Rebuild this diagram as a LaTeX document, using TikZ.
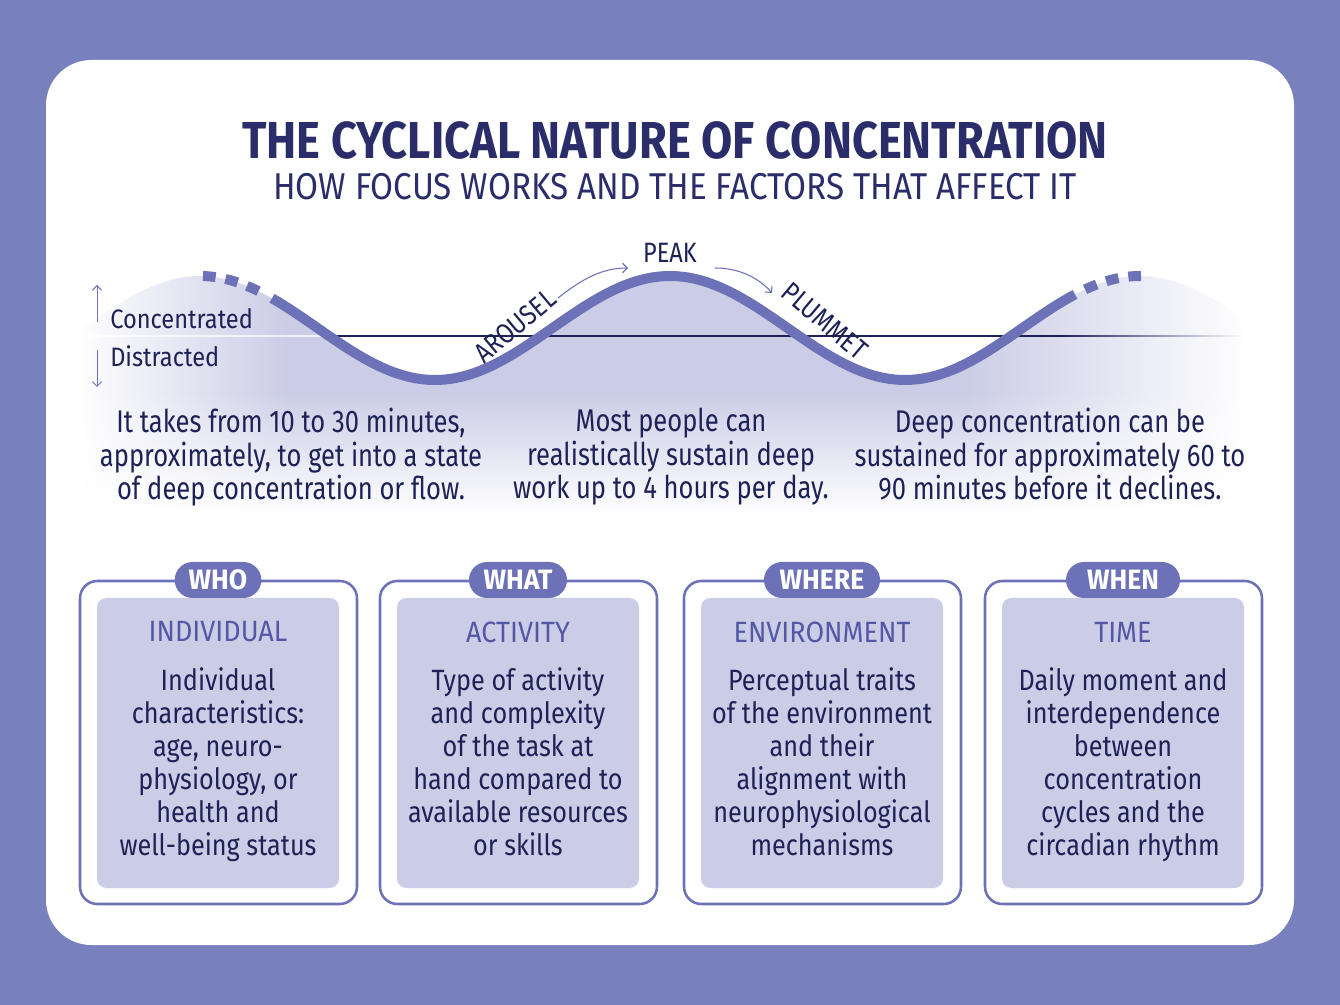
\documentclass[tikz,border=0pt]{standalone}
\usepackage{fontspec}
\setmainfont{Fira Sans}[FakeStretch=0.82]
\newfontfamily\ftitle{Fira Sans}[FakeStretch=0.87]
\newfontfamily\fsub{Fira Sans}[FakeStretch=0.89]
\newfontfamily\ftop{Fira Sans}[FakeStretch=0.815]
\newfontfamily\fbody{Fira Sans}[FakeStretch=0.86]
\newfontfamily\fhead{Fira Sans}[FakeStretch=0.92]
\newfontfamily\flab{Fira Sans}[FakeStretch=0.885]
\newfontfamily\fpill{Fira Sans}[FakeStretch=0.95]
\newfontfamily\fwave{Fira Sans}[FakeStretch=0.84]
\usetikzlibrary{arrows.meta}
\definecolor{bgp}{HTML}{7880BE}
\definecolor{wavec}{HTML}{6D72B8}
\definecolor{lavf}{HTML}{CBCDE6}
\definecolor{navy}{HTML}{1E2156}
\definecolor{titlec}{HTML}{2A2D6A}
\definecolor{headc}{HTML}{5357A5}
\colorlet{lavc}{lavf}
\pgfdeclarehorizontalshading[lavc]{lavhv}{100bp}{color(0bp)=(white); color(25bp)=(white); color(34bp)=(lavc); color(63bp)=(lavc); color(75bp)=(white); color(100bp)=(white)}
\begin{document}
\begin{tikzpicture}[x=0.75pt,y=-0.75pt,
  wavel/.style={draw=wavec, line width=7.5pt},
  tiparrow/.style={draw=wavec, line width=0.8pt, -{Straight Barb[length=3.5pt,width=7pt]}},
  wlabel/.style={text=navy, font=\fwave\fontsize{21pt}{22pt}\selectfont, inner sep=0pt},
  sidelabel/.style={text=navy, font=\flab\fontsize{20pt}{22pt}\selectfont, inner sep=0pt, anchor=base west},
  toptext/.style={text=navy, font=\ftop\fontsize{23.5pt}{25pt}\selectfont, align=center, inner sep=0pt, anchor=north},
  outerbox/.style={draw=wavec, line width=1.9pt, fill=white, rounded corners=13pt, minimum width=207.75pt, minimum height=242.25pt, inner sep=0pt},
  innerbox/.style={fill=lavf, rounded corners=7pt, minimum width=181.5pt, minimum height=217.5pt, inner sep=0pt},
  pill/.style={fill=wavec, text=white, rounded corners=13.5pt, minimum height=27pt, inner sep=0pt, font=\fpill\fontsize{21pt}{22pt}\selectfont\bfseries},
  heading/.style={text=headc, font=\fhead\fontsize{22pt}{23pt}\selectfont, inner sep=0pt},
  bodytext/.style={text=navy, font=\fbody\fontsize{22pt}{24.75pt}\selectfont, align=center, inner sep=0pt, anchor=north}
]
\useasboundingbox (0,0) rectangle (1340,1005);
\fill[bgp] (0,0) rectangle (1340,1005);
\fill[white, rounded corners=34pt] (46,60) rectangle (1294,945);

% titles
\node[text=titlec, font=\ftitle\fontsize{39pt}{40pt}\selectfont\bfseries, inner sep=0pt] (title) at (675,140) {THE CYCLICAL NATURE OF CONCENTRATION};
\node[text=titlec, font=\fsub\fontsize{28pt}{30pt}\selectfont, inner sep=0pt] (subtitle) at (675,187) {HOW FOCUS WORKS AND THE FACTORS THAT AFFECT IT};

% wave fill: upper part
\colorlet{lavc}{lavf}
\shade[shading=lavhv] (75,391) -- plot[domain=75:1250, samples=120] (\x,{328-52*cos((\x-670)*0.765957)}) -- (1250,391) -- cycle;
% wave fill: lower part, fading to white
\foreach \yy in {390,392,...,518}{
  \pgfmathsetmacro{\pp}{max(0,min(100,100*(516-\yy)/122))}
  \colorlet{lavc}{lavf!\pp!white}
  \shade[shading=lavhv] (75,\yy) rectangle (1250,\yy+2.6);
}

% baseline
\draw[white, opacity=0.7, line width=1.1pt] (75,336) -- (329,336);
\draw[navy, line width=1.1pt] (329,336) -- (1060,336);
\shade[left color=navy, right color=white] (1060,335.3) rectangle (1245,336.7);

% wave
\draw[wavel] plot[domain=272:1075, samples=140] (\x,{328-52*cos((\x-670)*0.765957)});
\draw[wavel, dash pattern=on 9.5pt off 7.5pt] plot[domain=203:263, samples=20] (\x,{328-52*cos((\x-670)*0.765957)});
\draw[wavel, dash pattern=on 9.5pt off 7.5pt] plot[domain=1141:1081, samples=20] (\x,{328-52*cos((\x-670)*0.765957)});

% axis labels
\coordinate (upS) at (97,322);
\coordinate (upE) at (97,285);
\coordinate (dnS) at (97,350);
\coordinate (dnE) at (97,387);
\draw[tiparrow, line width=0.7pt] (upS) -- (upE);
\draw[tiparrow, line width=0.7pt] (dnS) -- (dnE);
\node[sidelabel] (conc) at (110,329) {Concentrated};
\node[sidelabel] (dist) at (110,367) {Distracted};

% wave labels
\node[wlabel, rotate=40] (arousel) at (515,326) {AROUSEL};
\node[wlabel] (peak) at (670,253) {PEAK};
\node[wlabel, rotate=-40] (plummet) at (825,321) {PLUMMET};
\coordinate (a1s) at (558,298);
\coordinate (a1e) at (628,268);
\coordinate (a2s) at (715,268);
\coordinate (a2e) at (772,293);
\draw[tiparrow] (a1s) .. controls (582,279) and (602,268) .. (a1e);
\draw[tiparrow] (a2s) .. controls (738,268) and (758,277) .. (a2e);

% top texts
\node[toptext] (t1) at (291,408) {It takes from 10 to 30 minutes,\\approximately, to get into a state\\of deep concentration or flow.};
\node[toptext] (t2) at (671,408) {Most people can\\realistically sustain deep\\work up to 4 hours per day.};
\node[toptext] (t3) at (1050,408) {Deep concentration can be\\sustained for approximately 60 to\\90 minutes before it declines.};

% boxes
\foreach \cx/\nm/\tag/\tw/\head/\body in {
  218/who/WHO/65/INDIVIDUAL/{Individual\\characteristics:\\age, neuro-\\physiology, or\\health and\\well-being status},
  518/what/WHAT/73.5/ACTIVITY/{Type of activity\\and complexity\\of the task at\\hand compared to\\available resources\\or skills},
  822/where/WHERE/87/ENVIRONMENT/{Perceptual traits\\of the environment\\and their\\alignment with\\neurophysiological\\mechanisms},
  1123/when/WHEN/85.5/TIME/{Daily moment and\\interdependence\\between\\concentration\\cycles and the\\circadian rhythm}}{
  \node[outerbox] (o\nm) at (\cx+0.5,742.5) {};
  \node[innerbox] (i\nm) at (\cx,743) {};
  \node[pill, minimum width=\tw pt] (p\nm) at (\cx,580) {\tag};
  \node[heading] (h\nm) at (\cx,632) {\head};
  \node[bodytext] (b\nm) at (\cx,667) {\body};
}
\end{tikzpicture}
\end{document}
